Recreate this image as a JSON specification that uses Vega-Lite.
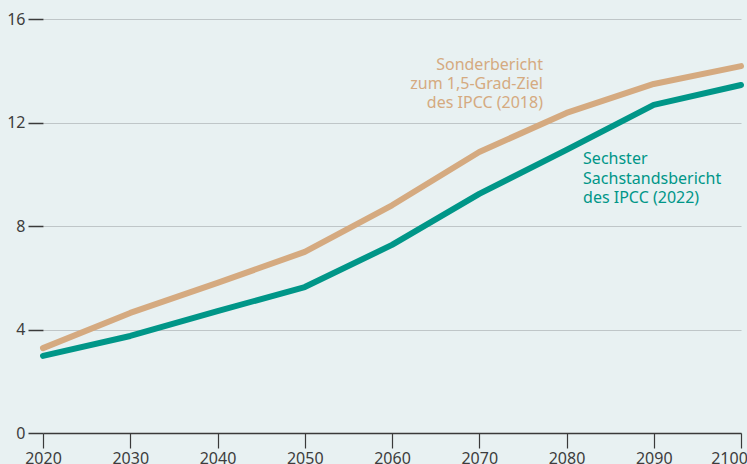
{
  "$schema": "https://vega.github.io/schema/vega-lite/v6.json",
  "width": 698,
  "height": 414,
  "autosize": "none",
  "padding": {"left": 43, "top": 19, "right": 6, "bottom": 31},
  "background": "#e8f1f2",
  "config": {
    "view": {"stroke": null},
    "font": "Noto Sans"
  },
  "datasets": {
    "lines": [
      {"year": 2020, "value": 3.28, "series": "Sonderbericht"},
      {"year": 2030, "value": 4.64, "series": "Sonderbericht"},
      {"year": 2040, "value": 5.8, "series": "Sonderbericht"},
      {"year": 2050, "value": 7.0, "series": "Sonderbericht"},
      {"year": 2060, "value": 8.8, "series": "Sonderbericht"},
      {"year": 2070, "value": 10.86, "series": "Sonderbericht"},
      {"year": 2080, "value": 12.37, "series": "Sonderbericht"},
      {"year": 2090, "value": 13.49, "series": "Sonderbericht"},
      {"year": 2100, "value": 14.18, "series": "Sonderbericht"},
      {"year": 2020, "value": 2.98, "series": "Sechster"},
      {"year": 2030, "value": 3.75, "series": "Sechster"},
      {"year": 2040, "value": 4.71, "series": "Sechster"},
      {"year": 2050, "value": 5.64, "series": "Sechster"},
      {"year": 2060, "value": 7.27, "series": "Sechster"},
      {"year": 2070, "value": 9.24, "series": "Sechster"},
      {"year": 2080, "value": 10.94, "series": "Sechster"},
      {"year": 2090, "value": 12.68, "series": "Sechster"},
      {"year": 2100, "value": 13.45, "series": "Sechster"}
    ],
    "labels": [
      {"year": 2077.3, "value": 14.55, "series": "Sonderbericht", "align": "right", "label": "Sonderbericht"},
      {"year": 2077.3, "value": 13.8, "series": "Sonderbericht", "align": "right", "label": "zum 1,5-Grad-Ziel"},
      {"year": 2077.3, "value": 13.05, "series": "Sonderbericht", "align": "right", "label": "des IPCC (2018)"},
      {"year": 2081.9, "value": 10.88, "series": "Sechster", "align": "left", "label": "Sechster"},
      {"year": 2081.9, "value": 10.13, "series": "Sechster", "align": "left", "label": "Sachstandsbericht"},
      {"year": 2081.9, "value": 9.38, "series": "Sechster", "align": "left", "label": "des IPCC (2022)"}
    ]
  },
  "layer": [
    {
      "data": {"name": "lines"},
      "mark": {"type": "line", "strokeWidth": 6, "strokeCap": "round", "strokeJoin": "round"},
      "encoding": {
        "x": {
          "field": "year", "type": "quantitative",
          "scale": {"domain": [2020, 2100], "nice": false, "zero": false},
          "axis": {
            "title": null, "values": [2020, 2030, 2040, 2050, 2060, 2070, 2080, 2090, 2100],
            "format": "d", "grid": false, "domainColor": "#3a3a3a", "domainWidth": 1.5,
            "tickColor": "#3a3a3a", "tickSize": 15, "tickWidth": 1.2,
            "labelFontSize": 16, "labelColor": "#3d3d3d", "labelPadding": 2, "labelFlush": false,
            "labelOffset": {"condition": {"test": "datum.value == 2100", "value": -12}, "value": 0}
          }
        },
        "y": {
          "field": "value", "type": "quantitative",
          "scale": {"domain": [0, 16], "nice": false},
          "axis": {
            "title": null, "values": [0, 4, 8, 12, 16],
            "domain": false, "grid": true, "gridColor": "#bfc6c8", "gridWidth": 1,
            "tickColor": "#3a3a3a", "tickSize": 15, "tickWidth": 1.5,
            "labelFontSize": 16, "labelColor": "#3d3d3d", "labelPadding": 3
          }
        },
        "color": {
          "field": "series", "type": "nominal",
          "scale": {"domain": ["Sonderbericht", "Sechster"], "range": ["#d5aa80", "#009688"]},
          "legend": null
        }
      }
    },
    {
      "data": {"name": "labels"},
      "transform": [{"filter": "datum.align == 'right'"}],
      "mark": {"type": "text", "align": "right", "baseline": "top", "fontSize": 16},
      "encoding": {
        "x": {"field": "year", "type": "quantitative"},
        "y": {"field": "value", "type": "quantitative"},
        "text": {"field": "label"},
        "color": {"field": "series", "type": "nominal", "legend": null}
      }
    },
    {
      "data": {"name": "labels"},
      "transform": [{"filter": "datum.align == 'left'"}],
      "mark": {"type": "text", "align": "left", "baseline": "top", "fontSize": 16},
      "encoding": {
        "x": {"field": "year", "type": "quantitative"},
        "y": {"field": "value", "type": "quantitative"},
        "text": {"field": "label"},
        "color": {"field": "series", "type": "nominal", "legend": null}
      }
    }
  ]
}
